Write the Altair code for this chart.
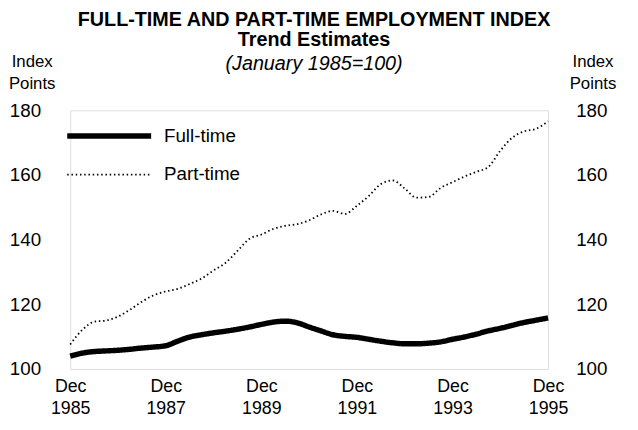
import altair as alt
import pandas as pd

# ---- data (quarterly, Dec 1985 .. Dec 1995) ----
months_since_dec85 = list(range(0, 121, 3))
full_time = [104.0, 104.9, 105.4, 105.6, 105.8, 106.1, 106.5, 106.8, 107.2,
             108.6, 109.9, 110.6, 111.2, 111.7, 112.3, 113.0, 113.8,
             114.5, 114.8, 114.3, 113.0, 111.8, 110.6, 110.1, 109.8,
             109.2, 108.6, 108.1, 107.8, 107.8, 108.0, 108.4, 109.2,
             109.9, 110.8, 111.8, 112.6, 113.5, 114.4, 115.1, 115.8]
part_time = [107.6, 112.0, 114.6, 115.0, 116.2, 118.3, 120.8, 122.8, 124.0,
             124.8, 126.3, 128.0, 130.5, 132.8, 136.5, 140.3, 141.6,
             143.3, 144.3, 144.8, 146.0, 147.8, 148.9, 148.0, 150.5,
             153.5, 157.2, 158.3, 155.8, 153.0, 153.2, 156.0, 157.8,
             159.5, 161.0, 162.5, 167.5, 171.5, 173.5, 174.3, 176.6]
series_names = ["Full-time", "Part-time"]
tick_years = [1985, 1987, 1989, 1991, 1993, 1995]
y_ticks = [100, 120, 140, 160, 180]

dates = pd.date_range("1985-12-01", periods=len(months_since_dec85), freq="3MS")
df = pd.concat([
    pd.DataFrame({"date": dates, "value": full_time, "series": series_names[0]}),
    pd.DataFrame({"date": dates, "value": part_time, "series": series_names[1]}),
])

FONT = "Liberation Sans"

x_scale = alt.Scale(domain=[alt.DateTime(year=1985, month=12, date=1),
                            alt.DateTime(year=1995, month=12, date=1)])
y_scale = alt.Scale(domain=[100, 180], nice=False, zero=False)

x_axis = alt.Axis(
    values=[alt.DateTime(year=y, month=12, date=1) for y in tick_years],
    labelExpr="['Dec', timeFormat(datum.value, '%Y')]",
    title=None, domain=False, ticks=False, grid=False,
    labelFont=FONT, labelFontSize=18, labelColor="black",
    labelPadding=9, labelLineHeight=22, labelBaseline="top",
    labelAlign="center", labelFlush=False, labelOverlap=False,
)

def y_axis(orient, title_x, pad, align):
    return alt.Axis(
        orient=orient, values=y_ticks, domain=False, ticks=False, grid=False,
        labelFont=FONT, labelFontSize=19, labelColor="black",
        labelPadding=pad, labelAlign=align,
        title=["Index", "Points"], titleAngle=0, titleX=title_x, titleY=-44,
        titleAlign="center", titleBaseline="alphabetic",
        titleFont=FONT, titleFontSize=17, titleFontWeight="normal",
        titleColor="black", titleLineHeight=22,
    )

legend = alt.Legend(
    title=None, orient="none", legendX=-6, legendY=16,
    symbolType="stroke", symbolSize=7225, symbolStrokeColor="black",
    clipHeight=20, rowPadding=19, padding=0, labelOffset=10,
    labelFont=FONT, labelFontSize=19, labelColor="black",
)

lines = alt.Chart(df).mark_line(color="black", interpolate="monotone", strokeCap="butt").encode(
    x=alt.X("date:T", scale=x_scale, axis=x_axis),
    y=alt.Y("value:Q", scale=y_scale, axis=y_axis("left", -39, 30, "right")),
    strokeDash=alt.StrokeDash(
        "series:N",
        scale=alt.Scale(domain=series_names, range=[[1, 0], [1.5, 2.8]]),
        legend=legend,
    ),
    strokeWidth=alt.StrokeWidth(
        "series:N",
        scale=alt.Scale(type="point", domain=series_names, range=[5.5, 1.8], padding=0),
        legend=legend,
    ),
    order=alt.Order("date:T"),
)

right = alt.Chart(df).mark_line(opacity=0).encode(
    x=alt.X("date:T", scale=x_scale, axis=x_axis),
    y=alt.Y("value:Q", scale=y_scale, axis=y_axis("right", 45, 28, "left")),
    detail="series:N",
)

chart = alt.layer(lines, right).resolve_scale(y="independent").properties(
    width=484, height=262,
    padding={"left": 63, "top": 101, "right": 83, "bottom": 51},
    autosize=alt.AutoSizeParams(type="none"),
    title=alt.TitleParams(
        text=["FULL-TIME AND PART-TIME EMPLOYMENT INDEX", "Trend Estimates"],
        subtitle="(January 1985=100)",
        anchor="middle", frame="group", dx=5,
        font=FONT, fontSize=20, fontWeight="bold", color="black", lineHeight=20,
        subtitleFont=FONT, subtitleFontSize=20, subtitleFontStyle="italic",
        subtitleColor="black", subtitlePadding=4, offset=-21,
    ),
).configure_view(strokeWidth=0).configure(background="white")

chart.save("out.html", embed_options={"renderer": "svg", "actions": False})
